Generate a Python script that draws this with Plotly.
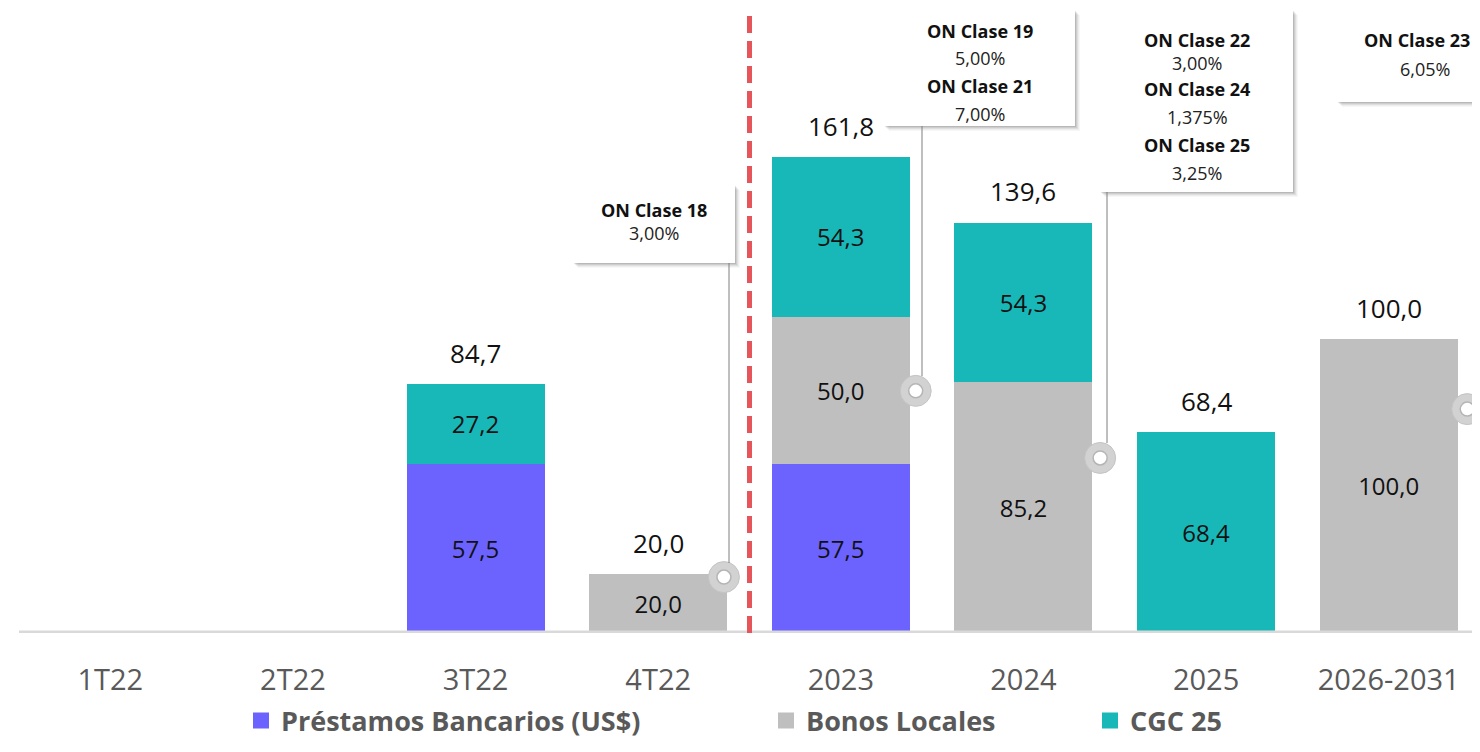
import plotly.graph_objects as go

# ---------------- data ----------------
categories = ["1T22", "2T22", "3T22", "4T22", "2023", "2024", "2025", "2026-2031"]
prestamos = [None, None, 57.5, None, 57.5, None, None, None]
bonos = [None, None, None, 20.0, 50.0, 85.2, None, 100.0]
cgc25 = [None, None, 27.2, None, 54.3, 54.3, 68.4, None]
totals = [None, None, 84.7, 20.0, 161.8, 139.6, 68.4, 100.0]

series_names = ["Préstamos Bancarios (US$)", "Bonos Locales", "CGC 25"]
series_values = [prestamos, bonos, cgc25]
series_colors = ["#6C63FF", "#BFBFBF", "#19B8B8"]

# bond issue callouts (ON = obligaciones negociables)
bond_cat = ["4T22", "2023", "2024", "2026-2031"]
bond_y = [19.0, 82.3, 59.5, 76.1]
bond_text = [
    [("ON Clase 18", True), ("3,00%", False)],
    [("ON Clase 19", True), ("5,00%", False), ("ON Clase 21", True), ("7,00%", False)],
    [("ON Clase 22", True), ("3,00%", False), ("ON Clase 24", True), ("1,375%", False),
     ("ON Clase 25", True), ("3,25%", False)],
    [("ON Clase 23", True), ("6,05%", False)],
]

# ---------------- layout geometry (reference pixels, page offset 8px) ----------------
OFF = 8
W, H = 1480 - 2 * OFF, 752 - 2 * OFF
ML, MR, MT = 19 - OFF, 0, 0
PLOT_BOTTOM = 633 - OFF
MB = H - PLOT_BOTTOM
PW, PH = W - ML - MR, PLOT_BOTTOM - MT
CAT_W = 182.625            # pixels per category
XMAX = -0.5 + PW / CAT_W
YMAX = PH / 2.942
FONT = "Open Sans, Lato, sans-serif"


def pxx(xp):
    return (xp - OFF - ML) / PW


def pxy(yp):
    return (PLOT_BOTTOM - (yp - OFF)) / PH


xs = list(range(len(categories)))
fig = go.Figure()

for name, vals, col in zip(series_names, series_values, series_colors):
    fig.add_trace(go.Bar(
        x=xs, y=vals, name=name, marker=dict(color=col, line=dict(width=0)),
        width=0.756, texttemplate="%{y:.1f}", textposition="inside",
        insidetextanchor="middle", textangle=0,
        textfont=dict(family=FONT, size=24, color="#111111"),
        showlegend=False, hoverinfo="skip",
    ))

# legends (three separate legends so each entry sits where the reference puts it)
legend_x_px = [241, 766, 1090]
for i, (name, col) in enumerate(zip(series_names, series_colors)):
    lg = "legend" if i == 0 else f"legend{i + 1}"
    fig.add_trace(go.Scatter(
        x=[None], y=[None], mode="markers", name=name, legend=lg,
        marker=dict(symbol="square", size=20, color=col),
    ))

# total labels
for i, t in enumerate(totals):
    if t is None:
        continue
    fig.add_annotation(
        x=xs[i], y=t, text=f"{t:.1f}".replace(".", ","), showarrow=False,
        yshift=31, yanchor="middle", xanchor="center",
        font=dict(family=FONT, size=26, color="#111111"),
    )

# bond marker rings
bond_offsets = [0.36, 0.41, 0.42, 0.43]
bx = [categories.index(c) + o for c, o in zip(bond_cat, bond_offsets)]
fig.add_trace(go.Scatter(
    x=bx, y=bond_y, mode="markers", showlegend=False, hoverinfo="skip", cliponaxis=False,
    marker=dict(size=31, color="#D2D2D2", line=dict(width=1, color="#C4C4C4")),
))
fig.add_trace(go.Scatter(
    x=bx, y=bond_y, mode="markers", showlegend=False, hoverinfo="skip", cliponaxis=False,
    marker=dict(size=14, color="#FFFFFF", line=dict(width=1.5, color="#B5B5B5")),
))

shapes = []
# baseline
shapes.append(dict(type="line", xref="paper", yref="y", x0=0, x1=1, y0=0, y1=0,
                   line=dict(color="#D9D9D9", width=5), layer="above"))
# red dashed separator between quarterly and yearly periods
shapes.append(dict(type="line", xref="x", yref="paper", x0=3.5, x1=3.5, y0=0, y1=pxy(15),
                   line=dict(color="#E5555A", width=5, dash="17px,8px"), layer="above"))

# callout boxes (reference pixel geometry)
boxes = [
    dict(x0=573, x1=735, y0=185, y1=263, lines_y=[210, 233], cx=654, line_x=729, mk_y=563),
    dict(x0=884, x1=1075, y0=10, y1=126, lines_y=[31, 58, 86, 114], cx=980, line_x=922, mk_y=376),
    dict(x0=1100, x1=1293, y0=10, y1=192, lines_y=[40, 63, 89, 117, 145, 173], cx=1197, line_x=1107, mk_y=443),
    dict(x0=1337, x1=1530, y0=10, y1=102, lines_y=[40, 69], cx=1425, line_x=1473, mk_y=394),
]
for bi, (b, texts) in enumerate(zip(boxes, bond_text)):
    for k, a in zip(range(1, 6), [0.10, 0.08, 0.06, 0.04, 0.03]):
        shapes.append(dict(type="rect", xref="paper", yref="paper",
                           x0=pxx(b["x0"] + k), x1=pxx(b["x1"] + k),
                           y0=pxy(b["y1"] + k), y1=pxy(b["y0"] + k),
                           fillcolor=f"rgba(0,0,0,{a})", line=dict(width=0), layer="above"))
    shapes.append(dict(type="rect", xref="paper", yref="paper",
                       x0=pxx(b["x0"]), x1=pxx(b["x1"]), y0=pxy(b["y1"]), y1=pxy(b["y0"]),
                       fillcolor="#FFFFFF", line=dict(width=0), layer="above"))
    shapes.append(dict(type="line", xref="paper", yref="paper",
                       x0=pxx(b["line_x"]), x1=pxx(b["line_x"]), y0=pxy(b["y1"]), y1=pxy(b["mk_y"]),
                       line=dict(color="#7F7F7F", width=1), layer="above"))
    for (txt, bold), ly in zip(texts, b["lines_y"]):
        # the last box is partly outside the window: keep its title inside the frame
        if bi == 3 and bold:
            xa, xp = "left", 1362
        else:
            xa, xp = "center", b["cx"]
        fig.add_annotation(
            xref="paper", yref="paper", x=pxx(xp), y=pxy(ly), showarrow=False,
            text=f"<b>{txt}</b>" if bold else txt, xanchor=xa, yanchor="middle",
            font=dict(family=FONT, size=18, color="#111111" if bold else "#222222"),
        )

leg_common = dict(orientation="h", yanchor="middle", xanchor="left", y=pxy(721),
                  bgcolor="rgba(0,0,0,0)", borderwidth=0, itemsizing="trace",
                  font=dict(family=FONT, size=27, color="#595959", weight="bold"))
fig.update_layout(
    width=W, height=H,
    margin=dict(l=ML, r=MR, t=MT, b=MB, autoexpand=False),
    paper_bgcolor="#FFFFFF", plot_bgcolor="#FFFFFF",
    barmode="stack", separators=",.",
    shapes=shapes,
    legend=dict(x=pxx(legend_x_px[0]), **leg_common),
    legend2=dict(x=pxx(legend_x_px[1]), **leg_common),
    legend3=dict(x=pxx(legend_x_px[2]), **leg_common),
    xaxis=dict(range=[-0.5, XMAX], tickvals=xs, ticktext=categories, showgrid=False,
               zeroline=False, showline=False, ticks="", ticklabelstandoff=27,
               tickfont=dict(family=FONT, size=29, color="#595959"), fixedrange=True),
    yaxis=dict(range=[0, YMAX], visible=False, showgrid=False, zeroline=False, fixedrange=True),
)

fig.write_html("out.html")
